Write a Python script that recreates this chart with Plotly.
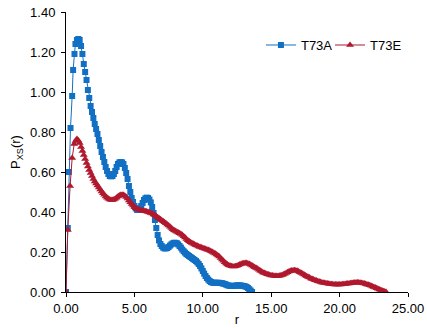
import plotly.graph_objects as go

# T73A (blue squares)
r_a = [0, 0.13, 0.2, 0.33, 0.45, 0.52, 0.62, 0.69, 0.8, 0.9, 1.0,
       1.1, 1.2, 1.3, 1.4, 1.5, 1.6, 1.7, 1.8, 1.9, 2.0,
       2.1, 2.2, 2.3, 2.4, 2.5, 2.6, 2.7, 2.8, 2.9, 3.0,
       3.1, 3.2, 3.3, 3.4, 3.5, 3.6, 3.7, 3.8, 3.9, 4.0,
       4.1, 4.2, 4.3, 4.4, 4.5, 4.6, 4.7, 4.8, 4.9, 5.0,
       5.1, 5.2, 5.3, 5.4, 5.5, 5.6, 5.7, 5.8, 5.9, 6.0,
       6.1, 6.2, 6.3, 6.4, 6.5, 6.6, 6.7, 6.8, 6.9, 7.0,
       7.1, 7.2, 7.3, 7.4, 7.5, 7.6, 7.7, 7.8, 7.9, 8.0,
       8.1, 8.2, 8.3, 8.4, 8.5, 8.6, 8.7, 8.8, 8.9, 9.0,
       9.1, 9.2, 9.3, 9.4, 9.5, 9.6, 9.7, 9.8, 9.9, 10.0,
       10.1, 10.2, 10.3, 10.4, 10.5, 10.6, 10.7, 10.8, 10.9, 11.0,
       11.1, 11.2, 11.3, 11.4, 11.5, 11.6, 11.7, 11.8, 11.9, 12.0,
       12.1, 12.2, 12.3, 12.4, 12.5, 12.6, 12.7, 12.8, 12.9, 13.0,
       13.1, 13.2, 13.3, 13.4, 13.5, 13.6]
p_a = [0, 0.32, 0.60, 0.82, 0.98, 1.11, 1.19, 1.24, 1.26, 1.265, 1.26,
       1.23, 1.19, 1.14, 1.10, 1.06, 1.01, 0.97, 0.93, 0.90, 0.87,
       0.84, 0.815, 0.79, 0.76, 0.73, 0.70, 0.675, 0.65, 0.625, 0.605,
       0.59, 0.58, 0.578, 0.58, 0.59, 0.605, 0.625, 0.64, 0.648, 0.65,
       0.648, 0.64, 0.62, 0.595, 0.565, 0.53, 0.50, 0.47, 0.45, 0.43,
       0.418, 0.41, 0.41, 0.418, 0.43, 0.445, 0.46, 0.468, 0.472, 0.47,
       0.462, 0.448, 0.425, 0.395, 0.36, 0.32, 0.285, 0.258, 0.24, 0.23,
       0.222, 0.218, 0.218, 0.22, 0.225, 0.232, 0.238, 0.243, 0.246, 0.246,
       0.244, 0.238, 0.23, 0.222, 0.212, 0.204, 0.197, 0.19, 0.185, 0.18,
       0.175, 0.17, 0.165, 0.16, 0.155, 0.148, 0.14, 0.13, 0.118, 0.105,
       0.092, 0.08, 0.07, 0.062, 0.055, 0.05, 0.047, 0.046, 0.046, 0.046,
       0.046, 0.046, 0.045, 0.044, 0.042, 0.04, 0.037, 0.034, 0.032, 0.031,
       0.03, 0.03, 0.031, 0.032, 0.033, 0.033, 0.033, 0.032, 0.031, 0.03,
       0.028, 0.025, 0.02, 0.014, 0.007, 0.0]

# T73E (red triangles)
r_e = [0, 0.13, 0.3, 0.45, 0.6, 0.7, 0.8, 0.9, 1.0,
       1.1, 1.2, 1.3, 1.4, 1.5, 1.6, 1.7, 1.8, 1.9, 2.0,
       2.1, 2.2, 2.3, 2.4, 2.5, 2.6, 2.7, 2.8, 2.9, 3.0,
       3.1, 3.2, 3.3, 3.4, 3.5, 3.6, 3.7, 3.8, 3.9, 4.0,
       4.1, 4.2, 4.3, 4.4, 4.5, 4.6, 4.7, 4.8, 4.9, 5.0,
       5.1, 5.2, 5.3, 5.4, 5.5, 5.6, 5.7, 5.8, 5.9, 6.0,
       6.1, 6.2, 6.3, 6.4, 6.5, 6.6, 6.7, 6.8, 6.9, 7.0,
       7.1, 7.2, 7.3, 7.4, 7.5, 7.6, 7.7, 7.8, 7.9, 8.0,
       8.1, 8.2, 8.3, 8.4, 8.5, 8.6, 8.7, 8.8, 8.9, 9.0,
       9.1, 9.2, 9.3, 9.4, 9.5, 9.6, 9.7, 9.8, 9.9, 10.0,
       10.1, 10.2, 10.3, 10.4, 10.5, 10.6, 10.7, 10.8, 10.9, 11.0,
       11.1, 11.2, 11.3, 11.4, 11.5, 11.6, 11.7, 11.8, 11.9, 12.0,
       12.1, 12.2, 12.3, 12.4, 12.5, 12.6, 12.7, 12.8, 12.9, 13.0,
       13.1, 13.2, 13.3, 13.4, 13.5, 13.6, 13.7, 13.8, 13.9, 14.0,
       14.1, 14.2, 14.3, 14.4, 14.5, 14.6, 14.7, 14.8, 14.9, 15.0,
       15.1, 15.2, 15.3, 15.4, 15.5, 15.6, 15.7, 15.8, 15.9, 16.0,
       16.1, 16.2, 16.3, 16.4, 16.5, 16.6, 16.7, 16.8, 16.9, 17.0,
       17.1, 17.2, 17.3, 17.4, 17.5, 17.6, 17.7, 17.8, 17.9, 18.0,
       18.1, 18.2, 18.3, 18.4, 18.5, 18.6, 18.7, 18.8, 18.9, 19.0,
       19.1, 19.2, 19.3, 19.4, 19.5, 19.6, 19.7, 19.8, 19.9, 20.0,
       20.1, 20.2, 20.3, 20.4, 20.5, 20.6, 20.7, 20.8, 20.9, 21.0,
       21.1, 21.2, 21.3, 21.4, 21.5, 21.6, 21.7, 21.8, 21.9, 22.0,
       22.1, 22.2, 22.3, 22.4, 22.5, 22.6, 22.7, 22.8, 22.9, 23.0,
       23.1, 23.2, 23.3, 23.4]
p_e = [0, 0.31, 0.53, 0.67, 0.74, 0.755, 0.765, 0.758, 0.745,
       0.725, 0.705, 0.685, 0.665, 0.645, 0.628, 0.61, 0.595, 0.58, 0.565,
       0.553, 0.542, 0.532, 0.522, 0.512, 0.503, 0.494, 0.486, 0.478, 0.471,
       0.466, 0.462, 0.46, 0.46, 0.462, 0.466, 0.471, 0.477, 0.482, 0.485,
       0.486, 0.485, 0.481, 0.475, 0.467, 0.458, 0.449, 0.44, 0.432, 0.425,
       0.419, 0.415, 0.412, 0.41, 0.408, 0.406, 0.405, 0.404, 0.402, 0.40,
       0.398, 0.395, 0.392, 0.388, 0.384, 0.379, 0.374, 0.369, 0.364, 0.359,
       0.354, 0.349, 0.344, 0.338, 0.332, 0.326, 0.32, 0.314, 0.309, 0.305,
       0.301, 0.298, 0.294, 0.29, 0.285, 0.279, 0.272, 0.265, 0.259, 0.254,
       0.249, 0.245, 0.241, 0.238, 0.234, 0.231, 0.228, 0.225, 0.222, 0.22,
       0.217, 0.215, 0.213, 0.21, 0.207, 0.204, 0.20, 0.196, 0.192, 0.188,
       0.183, 0.177, 0.17, 0.163, 0.156, 0.149, 0.143, 0.138, 0.134, 0.131,
       0.129, 0.128, 0.128, 0.129, 0.131, 0.134, 0.137, 0.14, 0.142, 0.144,
       0.145, 0.145, 0.143, 0.14, 0.136, 0.132, 0.128, 0.124, 0.12, 0.116,
       0.111, 0.106, 0.102, 0.098, 0.095, 0.092, 0.089, 0.087, 0.085, 0.083,
       0.082, 0.081, 0.08, 0.08, 0.08, 0.081, 0.083, 0.085, 0.088, 0.091,
       0.095, 0.099, 0.102, 0.105, 0.107, 0.108, 0.109, 0.108, 0.106, 0.103,
       0.099, 0.095, 0.091, 0.087, 0.083, 0.079, 0.075, 0.072, 0.068, 0.065,
       0.062, 0.059, 0.057, 0.054, 0.052, 0.05, 0.048, 0.046, 0.045, 0.044,
       0.042, 0.041, 0.04, 0.039, 0.039, 0.038, 0.038, 0.038, 0.038, 0.038,
       0.038, 0.039, 0.039, 0.04, 0.041, 0.042, 0.043, 0.044, 0.045, 0.046,
       0.046, 0.047, 0.047, 0.047, 0.046, 0.045, 0.044, 0.042, 0.04, 0.038,
       0.036, 0.034, 0.031, 0.028, 0.025, 0.022, 0.019, 0.016, 0.013, 0.01,
       0.007, 0.004, 0.002, 0.0]

x_ticks = [0, 5, 10, 15, 20, 25]
y_ticks = [0, 0.2, 0.4, 0.6, 0.8, 1.0, 1.2, 1.4]

BLUE = "#1170C4"
RED = "#B0182E"
FONT = "Liberation Sans, Arial, sans-serif"

fig = go.Figure()
fig.add_trace(go.Scatter(x=r_a, y=p_a, name="T73A", mode="lines+markers",
                         line=dict(color=BLUE, width=1),
                         marker=dict(symbol="square", size=6, color=BLUE),
                         legend="legend"))
fig.add_trace(go.Scatter(x=r_e, y=p_e, name="T73E", mode="lines+markers",
                         line=dict(color=RED, width=1),
                         marker=dict(symbol="triangle-up", size=7, color=RED),
                         legend="legend2"))

leg_common = dict(orientation="h", yanchor="middle", xanchor="left",
                  bgcolor="rgba(0,0,0,0)", font=dict(size=13, family=FONT),
                  itemwidth=30)

fig.update_layout(
    width=427, height=328,
    margin=dict(l=66, r=19, t=12, b=36),
    paper_bgcolor="white", plot_bgcolor="white",
    font=dict(family=FONT, size=13, color="#000000"),
    showlegend=True,
    legend=dict(x=0.570, y=0.882, **leg_common),
    legend2=dict(x=0.772, y=0.882, **leg_common),
    xaxis=dict(range=[0, 25], tickvals=x_ticks,
               ticktext=[f"{v:.2f}" for v in x_ticks],
               showgrid=False, zeroline=False, showline=True, linecolor="black",
               linewidth=1, ticks="outside", ticklen=4, tickcolor="black",
               automargin=False,
               title=dict(text="r", standoff=0, font=dict(size=13))),
    yaxis=dict(range=[0, 1.4], tickvals=y_ticks,
               ticktext=[f"{v:.2f}" for v in y_ticks],
               showgrid=False, zeroline=False, showline=True, linecolor="black",
               linewidth=1, ticks="outside", ticklen=4, tickcolor="black",
               ticklabelstandoff=3, automargin=False,
               title=dict(text="P<sub>XS</sub>(r)", standoff=6, font=dict(size=13))),
)

fig.write_html("out.html", config={"displayModeBar": False},
               post_script="document.body.style.margin='0';document.body.style.overflow='hidden';")
